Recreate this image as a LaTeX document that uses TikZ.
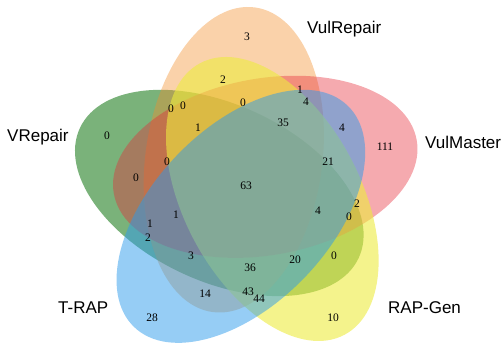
\documentclass[tikz,border=0pt]{standalone}
\usepackage{fontspec}
\setmainfont{Liberation Serif}
\newfontfamily\labelfont{Liberation Sans}

\definecolor{vrGreen}{RGB}{78,152,78}
\definecolor{vulrOrange}{RGB}{242,142,42}
\definecolor{vulmPink}{RGB}{230,42,55}
\definecolor{rapYellow}{RGB}{237,235,63}
\definecolor{trapBlue}{RGB}{45,155,235}

\begin{document}
\begin{tikzpicture}[
    x=1pt, y=-1pt,
    setarea/.style={draw=none, fill opacity=#1},
    regnum/.style={inner sep=0pt, font=\fontsize{11.5}{12}\selectfont},
    setname/.style={inner sep=0pt, anchor=base west, font=\labelfont\fontsize{17}{18}\selectfont}
]
    \useasboundingbox (0,0) rectangle (504,344);

    % Sets, in axes units
    \begin{scope}[shift={(68,351.7)}, x=353.5pt, y=353.5pt]
        \fill [setarea=0.75, vrGreen] (0.428,0.449) ellipse [x radius=0.435, y radius=0.25, rotate=155];
        \fill [setarea=0.4, vulrOrange] (0.469,0.543) ellipse [x radius=0.435, y radius=0.25, rotate=82];
        \fill [setarea=0.4, vulmPink] (0.558,0.523) ellipse [x radius=0.435, y radius=0.25, rotate=10];
        \fill [setarea=0.6, rapYellow] (0.578,0.432) ellipse [x radius=0.435, y radius=0.25, rotate=118];
        \fill [setarea=0.5, trapBlue] (0.489,0.383) ellipse [x radius=0.435, y radius=0.25, rotate=46];
    \end{scope}

    % Set names
    \node [setname] (vrName) at (7,141.7) {VRepair};
    \node [setname] (vulrName) at (307,33.5) {VulRepair};
    \node [setname] (vulmName) at (425,148.5) {VulMaster};
    \node [setname] (rapName) at (388,314) {RAP-Gen};
    \node [setname] (trapName) at (58,314) {T-RAP};

    % Only one set
    \node [regnum] (vrOnly) at (107,136) {0};
    \node [regnum] (vulrOnly) at (247,37) {3};
    \node [regnum] (vulmOnly) at (385,147) {111};
    \node [regnum] (rapOnly) at (333,318) {10};
    \node [regnum] (trapOnly) at (152,318) {28};

    % Overlaps
    \node [regnum] (c1) at (223,80) {2};
    \node [regnum] (c2) at (171,109) {0};
    \node [regnum] (c3) at (183,106) {0};
    \node [regnum] (c4) at (243,103) {0};
    \node [regnum] (c5) at (198,128) {1};
    \node [regnum] (c6) at (167,162) {0};
    \node [regnum] (c7) at (300,90) {1};
    \node [regnum] (c8) at (306,102) {4};
    \node [regnum] (c9) at (283,123) {35};
    \node [regnum] (c10) at (342,128) {4};
    \node [regnum] (c11) at (328,162) {21};
    \node [regnum] (c12) at (136,178) {0};
    \node [regnum] (c13) at (176,215) {1};
    \node [regnum] (c14) at (150,224) {1};
    \node [regnum] (c15) at (148,238) {2};
    \node [regnum] (c16) at (191,256) {3};
    \node [regnum] (c17) at (250,268) {36};
    \node [regnum] (c18) at (205,294) {14};
    \node [regnum] (c19) at (248,292) {43};
    \node [regnum] (c20) at (259,299) {44};
    \node [regnum] (c21) at (357,204) {2};
    \node [regnum] (c22) at (349,217) {0};
    \node [regnum] (c23) at (318,211) {4};
    \node [regnum] (c24) at (295,260) {20};
    \node [regnum] (c25) at (334,256) {0};

    % All five
    \node [regnum] (all) at (246,186) {63};
\end{tikzpicture}
\end{document}
